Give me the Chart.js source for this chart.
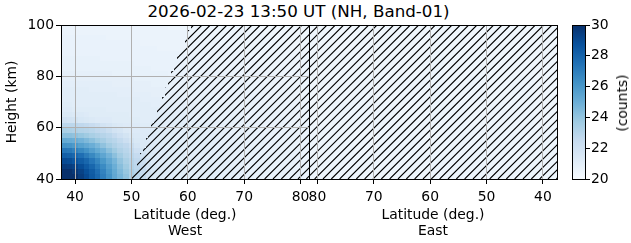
<!DOCTYPE html>
<html lang="en">
<head>
<meta charset="UTF-8">
<title>Band-01 counts</title>
<script src="https://cdn.jsdelivr.net/npm/chart.js"></script>
<style>
  body { margin: 0; background: #fff; font-family: 'DejaVu Sans', sans-serif; color: #000; }
  .fig { position: relative; width: 631px; height: 243px; overflow: hidden; }
  .fig canvas { position: absolute; top: 0; }
  #title { position: absolute; left: 0; top: 1px; width: 597px; text-align: center; font-size: 16.7px; line-height: 20px; white-space: nowrap; }
  #cbLabel { position: absolute; left: 621.5px; top: 103px; font-size: 13.9px; line-height: 16px; white-space: nowrap; transform: translate(-50%, -50%) rotate(-90deg); }
</style>
</head>
<body>
<div class="fig">
  <div id="title">2026-02-23 13:50 UT (NH, Band-01)</div>
  <canvas id="west" width="310" height="243" style="left:0"></canvas>
  <canvas id="east" width="268" height="243" style="left:290px"></canvas>
  <canvas id="cbar" width="71" height="243" style="left:560px"></canvas>
  <div id="cbLabel">(counts)</div>
</div>

<script>
// tick labels
const latTicks = [40, 50, 60, 70, 80];
const heightTicks = [40, 60, 80, 100];
const countTicks = [20, 22, 24, 26, 28, 30];

// West panel: cell centres (deg, km) and counts, one row per height
const westLats = [38, 39, 40, 41, 42, 43, 44, 45, 46, 47, 48, 49, 50, 51, 52, 53, 54, 55, 56, 57, 58, 59,
                  60, 61, 62, 63, 64, 65, 66, 67, 68, 69, 70, 71, 72, 73, 74, 75, 76, 77, 78, 79, 80, 81];
const westHeights = [41, 43, 45, 47, 49, 51, 53, 55, 57, 59, 61, 63, 65, 67, 69,
                     71, 73, 75, 77, 79, 81, 83, 85, 87, 89, 91, 93, 95, 97, 99];
const westCounts = [
  [30.5,30.3,30.0,29.5,29.0,28.4,27.8,27.0,26.2,25.3,24.7, 24.1,23.3,22.9,22.6,21.9,21.5,21.4,21.3,21.3,21.2,21.2, 21.2,21.1,21.1,21.1,21.1,21.1,21.0,21.0,20.9,20.9,20.9, 20.8,20.8,20.8,20.8,20.7,20.7,20.7,20.7,20.7,20.7,20.6],
  [30.2,30.0,29.7,29.3,28.8,28.3,27.6,26.8,26.0,25.2,24.5, 23.9,23.3,22.9,22.5,22.0,21.6,21.4,21.3,21.3,21.2,21.2, 21.1,21.1,21.1,21.1,21.1,21.0,21.0,21.0,20.9,20.9,20.9, 20.8,20.8,20.8,20.8,20.7,20.7,20.7,20.7,20.7,20.7,20.6],
  [29.6,29.5,29.3,28.9,28.4,27.9,27.2,26.5,25.7,25.0,24.3, 23.7,23.1,22.8,22.4,21.9,21.5,21.3,21.3,21.3,21.2,21.2, 21.1,21.1,21.1,21.1,21.1,21.0,21.0,21.0,20.9,20.9,20.9, 20.8,20.8,20.8,20.8,20.7,20.7,20.7,20.7,20.7,20.7,20.6],
  [29.0,28.9,28.6,28.3,27.9,27.3,26.7,26.0,25.3,24.7,24.0, 23.4,23.0,22.7,22.2,21.7,21.4,21.3,21.3,21.2,21.2,21.2, 21.1,21.1,21.1,21.1,21.1,21.0,21.0,21.0,20.9,20.9,20.9, 20.8,20.8,20.8,20.8,20.7,20.7,20.7,20.7,20.7,20.7,20.6],
  [28.2,28.1,27.9,27.6,27.1,26.6,26.0,25.4,24.8,24.2,23.6, 23.1,22.8,22.5,21.9,21.5,21.4,21.3,21.3,21.2,21.2,21.2, 21.1,21.1,21.1,21.1,21.1,21.0,21.0,20.9,20.9,20.9,20.8, 20.8,20.8,20.8,20.8,20.7,20.7,20.7,20.7,20.7,20.7,20.6],
  [27.3,27.2,26.9,26.6,26.2,25.7,25.2,24.8,24.2,23.7,23.2, 22.9,22.6,22.1,21.7,21.4,21.3,21.3,21.3,21.2,21.2,21.1, 21.1,21.1,21.1,21.1,21.1,21.0,21.0,20.9,20.9,20.9,20.8, 20.8,20.8,20.8,20.7,20.7,20.7,20.7,20.7,20.7,20.7,20.6],
  [26.2,26.1,25.9,25.6,25.3,25.0,24.6,24.1,23.6,23.2,22.9, 22.7,22.3,21.7,21.4,21.4,21.3,21.3,21.2,21.2,21.2,21.1, 21.1,21.1,21.1,21.1,21.0,21.0,21.0,20.9,20.9,20.9,20.8, 20.8,20.8,20.8,20.7,20.7,20.7,20.7,20.7,20.7,20.6,20.6],
  [25.2,25.1,25.0,24.8,24.5,24.2,23.8,23.5,23.1,22.9,22.6, 22.2,21.8,21.5,21.4,21.3,21.3,21.2,21.2,21.2,21.1,21.1, 21.1,21.1,21.1,21.1,21.0,21.0,20.9,20.9,20.9,20.8,20.8, 20.8,20.8,20.8,20.7,20.7,20.7,20.7,20.7,20.7,20.6,20.6],
  [24.2,24.2,24.1,23.9,23.7,23.4,23.2,23.0,22.8,22.5,22.1, 21.8,21.5,21.4,21.3,21.3,21.3,21.2,21.2,21.2,21.1,21.1, 21.1,21.1,21.1,21.0,21.0,21.0,20.9,20.9,20.9,20.8,20.8, 20.8,20.8,20.7,20.7,20.7,20.7,20.7,20.7,20.7,20.6,20.6],
  [23.4,23.3,23.2,23.1,23.0,22.9,22.7,22.6,22.3,21.9,21.7, 21.4,21.3,21.3,21.3,21.3,21.2,21.2,21.2,21.1,21.1,21.1, 21.1,21.1,21.1,21.0,21.0,20.9,20.9,20.9,20.8,20.8,20.8, 20.8,20.8,20.7,20.7,20.7,20.7,20.7,20.7,20.7,20.6,20.6],
  [22.8,22.8,22.8,22.7,22.6,22.4,22.2,21.9,21.7,21.5,21.4, 21.3,21.3,21.3,21.2,21.2,21.2,21.2,21.1,21.1,21.1,21.1, 21.1,21.1,21.0,21.0,21.0,20.9,20.9,20.9,20.8,20.8,20.8, 20.8,20.7,20.7,20.7,20.7,20.7,20.7,20.7,20.6,20.6,20.6],
  [22.0,21.9,21.8,21.6,21.5,21.4,21.3,21.3,21.3,21.2,21.2, 21.2,21.2,21.2,21.1,21.1,21.1,21.1,21.1,21.1,21.1,21.0, 21.0,21.0,20.9,20.9,20.9,20.9,20.8,20.8,20.8,20.8,20.8, 20.7,20.7,20.7,20.7,20.7,20.7,20.7,20.6,20.6,20.6,20.6],
  [21.5,21.5,21.4,21.4,21.3,21.2,21.2,21.2,21.2,21.2,21.2, 21.2,21.1,21.1,21.1,21.1,21.1,21.1,21.1,21.1,21.0,21.0, 21.0,20.9,20.9,20.9,20.9,20.8,20.8,20.8,20.8,20.8,20.7, 20.7,20.7,20.7,20.7,20.7,20.7,20.6,20.6,20.6,20.6,20.6],
  [21.3,21.3,21.2,21.2,21.2,21.2,21.2,21.2,21.1,21.1,21.1, 21.1,21.1,21.1,21.1,21.1,21.1,21.1,21.0,21.0,21.0,21.0, 20.9,20.9,20.9,20.8,20.8,20.8,20.8,20.8,20.8,20.7,20.7, 20.7,20.7,20.7,20.7,20.7,20.6,20.6,20.6,20.6,20.6,20.6],
  [21.2,21.2,21.1,21.1,21.1,21.1,21.1,21.1,21.1,21.1,21.1, 21.1,21.1,21.1,21.1,21.1,21.0,21.0,21.0,21.0,20.9,20.9, 20.9,20.9,20.8,20.8,20.8,20.8,20.8,20.8,20.7,20.7,20.7, 20.7,20.7,20.7,20.7,20.6,20.6,20.6,20.6,20.6,20.6,20.6],
  [21.1,21.1,21.1,21.1,21.1,21.1,21.1,21.1,21.1,21.1,21.1, 21.1,21.1,21.1,21.0,21.0,21.0,21.0,20.9,20.9,20.9,20.9, 20.9,20.8,20.8,20.8,20.8,20.8,20.7,20.7,20.7,20.7,20.7, 20.7,20.7,20.7,20.6,20.6,20.6,20.6,20.6,20.6,20.6,20.5],
  [21.1,21.1,21.1,21.1,21.1,21.1,21.1,21.1,21.1,21.1,21.0, 21.0,21.0,21.0,21.0,21.0,20.9,20.9,20.9,20.9,20.9,20.8, 20.8,20.8,20.8,20.8,20.8,20.7,20.7,20.7,20.7,20.7,20.7, 20.7,20.7,20.6,20.6,20.6,20.6,20.6,20.6,20.6,20.5,20.5],
  [21.1,21.1,21.1,21.1,21.1,21.0,21.0,21.0,21.0,21.0,21.0, 21.0,21.0,20.9,20.9,20.9,20.9,20.9,20.9,20.8,20.8,20.8, 20.8,20.8,20.8,20.7,20.7,20.7,20.7,20.7,20.7,20.7,20.7, 20.7,20.6,20.6,20.6,20.6,20.6,20.6,20.6,20.6,20.5,20.5],
  [21.0,21.0,21.0,21.0,21.0,21.0,21.0,21.0,21.0,20.9,20.9, 20.9,20.9,20.9,20.9,20.9,20.8,20.8,20.8,20.8,20.8,20.8, 20.8,20.8,20.7,20.7,20.7,20.7,20.7,20.7,20.7,20.7,20.7, 20.6,20.6,20.6,20.6,20.6,20.6,20.6,20.5,20.5,20.5,20.5],
  [20.9,20.9,20.9,20.9,20.9,20.9,20.9,20.9,20.9,20.9,20.9, 20.9,20.9,20.8,20.8,20.8,20.8,20.8,20.8,20.8,20.8,20.8, 20.7,20.7,20.7,20.7,20.7,20.7,20.7,20.7,20.7,20.6,20.6, 20.6,20.6,20.6,20.6,20.6,20.6,20.5,20.5,20.5,20.5,20.5],
  [20.9,20.9,20.9,20.9,20.9,20.9,20.9,20.9,20.9,20.8,20.8, 20.8,20.8,20.8,20.8,20.8,20.8,20.8,20.8,20.7,20.7,20.7, 20.7,20.7,20.7,20.7,20.7,20.7,20.7,20.7,20.6,20.6,20.6, 20.6,20.6,20.6,20.6,20.6,20.5,20.5,20.5,20.5,20.5,20.5],
  [20.8,20.8,20.8,20.8,20.8,20.8,20.8,20.8,20.8,20.8,20.8, 20.8,20.8,20.8,20.8,20.8,20.7,20.7,20.7,20.7,20.7,20.7, 20.7,20.7,20.7,20.7,20.7,20.7,20.6,20.6,20.6,20.6,20.6, 20.6,20.6,20.6,20.6,20.5,20.5,20.5,20.5,20.5,20.5,20.5],
  [20.8,20.8,20.8,20.8,20.8,20.8,20.8,20.8,20.8,20.8,20.8, 20.8,20.8,20.7,20.7,20.7,20.7,20.7,20.7,20.7,20.7,20.7, 20.7,20.7,20.7,20.7,20.6,20.6,20.6,20.6,20.6,20.6,20.6, 20.6,20.6,20.5,20.5,20.5,20.5,20.5,20.5,20.5,20.5,20.5],
  [20.8,20.8,20.8,20.8,20.8,20.8,20.8,20.7,20.7,20.7,20.7, 20.7,20.7,20.7,20.7,20.7,20.7,20.7,20.7,20.7,20.7,20.7, 20.7,20.7,20.6,20.6,20.6,20.6,20.6,20.6,20.6,20.6,20.6, 20.6,20.5,20.5,20.5,20.5,20.5,20.5,20.5,20.5,20.5,20.5],
  [20.7,20.7,20.7,20.7,20.7,20.7,20.7,20.7,20.7,20.7,20.7, 20.7,20.7,20.7,20.7,20.7,20.7,20.7,20.7,20.7,20.7,20.6, 20.6,20.6,20.6,20.6,20.6,20.6,20.6,20.6,20.6,20.6,20.5, 20.5,20.5,20.5,20.5,20.5,20.5,20.5,20.5,20.5,20.5,20.4],
  [20.7,20.7,20.7,20.7,20.7,20.7,20.7,20.7,20.7,20.7,20.7, 20.7,20.7,20.7,20.7,20.7,20.7,20.6,20.6,20.6,20.6,20.6, 20.6,20.6,20.6,20.6,20.6,20.6,20.6,20.6,20.5,20.5,20.5, 20.5,20.5,20.5,20.5,20.5,20.5,20.5,20.5,20.4,20.4,20.4],
  [20.7,20.7,20.7,20.7,20.7,20.7,20.7,20.7,20.7,20.7,20.7, 20.7,20.7,20.7,20.6,20.6,20.6,20.6,20.6,20.6,20.6,20.6, 20.6,20.6,20.6,20.6,20.6,20.6,20.5,20.5,20.5,20.5,20.5, 20.5,20.5,20.5,20.5,20.5,20.5,20.5,20.4,20.4,20.4,20.4],
  [20.7,20.7,20.7,20.7,20.7,20.7,20.7,20.7,20.6,20.6,20.6, 20.6,20.6,20.6,20.6,20.6,20.6,20.6,20.6,20.6,20.6,20.6, 20.6,20.6,20.6,20.5,20.5,20.5,20.5,20.5,20.5,20.5,20.5, 20.5,20.5,20.5,20.5,20.5,20.4,20.4,20.4,20.4,20.4,20.4],
  [20.6,20.6,20.6,20.6,20.6,20.6,20.6,20.6,20.6,20.6,20.6, 20.6,20.6,20.6,20.6,20.6,20.6,20.6,20.6,20.6,20.6,20.6, 20.6,20.5,20.5,20.5,20.5,20.5,20.5,20.5,20.5,20.5,20.5, 20.5,20.5,20.5,20.4,20.4,20.4,20.4,20.4,20.4,20.4,20.4],
  [20.6,20.6,20.6,20.6,20.6,20.6,20.6,20.6,20.6,20.6,20.6, 20.6,20.6,20.6,20.6,20.6,20.6,20.6,20.6,20.5,20.5,20.5, 20.5,20.5,20.5,20.5,20.5,20.5,20.5,20.5,20.5,20.5,20.5, 20.5,20.4,20.4,20.4,20.4,20.4,20.4,20.4,20.4,20.4,20.4]
];
// latitude where the hatched (masked) part starts, one value per west height row
const westHatchFrom = [50.0, 50.5, 51.0, 51.0, 51.5, 52.0, 52.5, 52.5, 53.0, 53.5, 53.5, 54.0, 54.5, 54.5, 55.0,
                       55.5, 56.0, 56.0, 56.5, 57.0, 57.0, 57.5, 58.0, 58.0, 58.5, 59.0, 59.5, 59.5, 60.0, 60.5];

// East panel (all hatched)
const eastLats = [79.5, 75.5, 71.5, 67.5, 63.5, 59.5, 55.5, 51.5, 47.5, 43.5, 39.5];
const eastHeights = [45, 55, 65, 75, 85, 95];
const eastCounts = [
  [20.5, 20.5, 20.5, 20.4, 20.5, 20.5, 20.5, 20.5, 20.5, 20.5, 20.5],
  [20.5, 20.5, 20.4, 20.5, 20.5, 20.4, 20.5, 20.5, 20.5, 20.5, 20.5],
  [20.4, 20.5, 20.5, 20.5, 20.4, 20.5, 20.5, 20.4, 20.5, 20.5, 20.4],
  [20.4, 20.4, 20.5, 20.4, 20.5, 20.5, 20.4, 20.5, 20.4, 20.5, 20.4],
  [20.4, 20.4, 20.4, 20.4, 20.4, 20.5, 20.4, 20.4, 20.4, 20.4, 20.4],
  [20.4, 20.3, 20.4, 20.4, 20.4, 20.4, 20.4, 20.3, 20.4, 20.4, 20.4]
];
const eastHatchFrom = [37.5, 37.5, 37.5, 37.5, 37.5, 37.5];

const LAT_MIN = 37.5, LAT_MAX = 81.5;
const H_MIN = 40, H_MAX = 100;
const C_MIN = 20, C_MAX = 30;

// matplotlib "Blues"
const blues = [[247,251,255],[222,235,247],[198,219,239],[158,202,225],[107,174,214],
               [66,146,198],[33,113,181],[8,81,156],[8,48,107]];

function bluesColor(v) {
  let t = (v - C_MIN) / (C_MAX - C_MIN);
  t = Math.max(0, Math.min(1, t));
  const p = t * (blues.length - 1);
  const i = Math.min(blues.length - 2, Math.floor(p));
  const f = p - i;
  const a = blues[i], b = blues[i + 1];
  return 'rgb(' + [0, 1, 2].map(k => Math.round(a[k] + (b[k] - a[k]) * f)).join(',') + ')';
}

// cell edges from cell centres
function edges(c) {
  const e = [c[0] - (c[1] - c[0]) / 2];
  for (let i = 1; i < c.length; i++) e.push((c[i - 1] + c[i]) / 2);
  e.push(c[c.length - 1] + (c[c.length - 1] - c[c.length - 2]) / 2);
  return e;
}

const HATCH_STEP = 100 / 12;
const HATCH_PHASE = 2;

function panelPlugin(lats, heights, counts, hatchFrom, pageLeft) {
  const latE = edges(lats), hE = edges(heights);
  return {
    id: 'panel',
    beforeDraw(chart) {
      const { ctx, chartArea: a, scales: { x, y } } = chart;
      ctx.save();
      ctx.beginPath();
      ctx.rect(a.left, a.top, a.right - a.left, a.bottom - a.top);
      ctx.clip();
      // counts
      for (let r = 0; r < heights.length; r++) {
        const y0 = Math.round(y.getPixelForValue(hE[r]));
        const y1 = Math.round(y.getPixelForValue(hE[r + 1]));
        for (let c = 0; c < lats.length; c++) {
          const x0 = Math.round(x.getPixelForValue(latE[c]));
          const x1 = Math.round(x.getPixelForValue(latE[c + 1]));
          ctx.fillStyle = bluesColor(counts[r][c]);
          ctx.fillRect(Math.min(x0, x1), Math.min(y0, y1), Math.abs(x1 - x0), Math.abs(y1 - y0));
        }
      }
      // hatched mask
      ctx.beginPath();
      for (let r = 0; r < heights.length; r++) {
        const y0 = Math.round(y.getPixelForValue(hE[r]));
        const y1 = Math.round(y.getPixelForValue(hE[r + 1]));
        const xa = Math.round(x.getPixelForValue(hatchFrom[r]));
        const xb = Math.round(x.getPixelForValue(LAT_MAX));
        ctx.rect(Math.min(xa, xb), Math.min(y0, y1), Math.abs(xb - xa), Math.abs(y1 - y0));
      }
      ctx.clip();
      ctx.beginPath();
      const sMin = a.left + pageLeft + a.top, sMax = a.right + pageLeft + a.bottom;
      for (let k = Math.floor((sMin - HATCH_PHASE) / HATCH_STEP); k * HATCH_STEP + HATCH_PHASE <= sMax; k++) {
        const s = k * HATCH_STEP + HATCH_PHASE - pageLeft;
        ctx.moveTo(s - a.bottom, a.bottom);
        ctx.lineTo(s - a.top, a.top);
      }
      ctx.strokeStyle = '#000';
      ctx.lineWidth = 1.1;
      ctx.stroke();
      ctx.restore();
    },
    afterDraw(chart) {
      const { ctx, chartArea: a } = chart;
      ctx.save();
      ctx.strokeStyle = '#000';
      ctx.lineWidth = 1;
      ctx.strokeRect(a.left + 0.5, a.top + 0.5, a.right - a.left, a.bottom - a.top);
      ctx.restore();
    }
  };
}

Chart.defaults.font.family = "'DejaVu Sans', sans-serif";
Chart.defaults.font.size = 13.9;
Chart.defaults.color = '#000';

const gridStyle = { color: '#b0b0b0', lineWidth: 1, tickColor: '#000', tickLength: 5, tickWidth: 1 };

// no label overflow padding: the plot areas are placed by hand
function noPad(s) {
  s.paddingLeft = 0; s.paddingRight = 0; s.paddingTop = 0; s.paddingBottom = 0;
}

function latAxis(reverse, side) {
  return {
    type: 'linear', min: LAT_MIN, max: LAT_MAX, reverse: reverse,
    afterBuildTicks: s => { s.ticks = latTicks.map(v => ({ value: v })); },
    afterFit: s => { s.height = 64; noPad(s); },
    grid: gridStyle,
    border: { display: false },
    ticks: { padding: 5, maxRotation: 0, autoSkip: false },
    title: { display: true, text: ['Latitude (deg.)', side], font: { lineHeight: '16px' }, padding: { top: 0, bottom: 4 } }
  };
}

const heightAxis = {
  type: 'linear', min: H_MIN, max: H_MAX,
  afterBuildTicks: s => { s.ticks = heightTicks.map(v => ({ value: v })); },
  afterFit: s => { s.width = 61; noPad(s); },
  grid: gridStyle,
  border: { display: false },
  ticks: { padding: 2 },
  title: { display: true, text: 'Height (km)', font: { lineHeight: 1.2 }, padding: { top: 4, bottom: 0 } }
};

function panelChart(id, lats, heights, counts, hatchFrom, pageLeft, reverse, side, showY) {
  return new Chart(document.getElementById(id), {
    type: 'scatter',
    data: { datasets: [] },
    options: {
      responsive: false,
      animation: false,
      layout: { autoPadding: false, padding: { top: 25, right: 1, bottom: 0, left: showY ? 0 : 19 } },
      plugins: { legend: { display: false }, tooltip: { enabled: false } },
      scales: {
        x: latAxis(reverse, side),
        y: showY ? heightAxis : { type: 'linear', min: H_MIN, max: H_MAX, display: false }
      }
    },
    plugins: [panelPlugin(lats, heights, counts, hatchFrom, pageLeft)]
  });
}

panelChart('west', westLats, westHeights, westCounts, westHatchFrom, 0, false, 'West', true);
panelChart('east', eastLats, eastHeights, eastCounts, eastHatchFrom, 290, true, 'East', false);

// colour bar
new Chart(document.getElementById('cbar'), {
  type: 'scatter',
  data: { datasets: [] },
  options: {
    responsive: false,
    animation: false,
    layout: { autoPadding: false, padding: { top: 25, right: 0, bottom: 64, left: 12 } },
    plugins: { legend: { display: false }, tooltip: { enabled: false } },
    scales: {
      x: { display: false },
      y: {
        type: 'linear', position: 'right', min: C_MIN, max: C_MAX,
        afterBuildTicks: s => { s.ticks = countTicks.map(v => ({ value: v })); },
        afterFit: s => { s.width = 45; noPad(s); },
        grid: { drawOnChartArea: false, tickColor: '#000', tickLength: 4, tickWidth: 1 },
        border: { display: false },
        ticks: { padding: 1 }
      }
    }
  },
  plugins: [{
    id: 'cbar',
    beforeDraw(chart) {
      const { ctx, chartArea: a, scales: { y } } = chart;
      const g = ctx.createLinearGradient(0, y.getPixelForValue(C_MIN), 0, y.getPixelForValue(C_MAX));
      blues.forEach((c, i) => g.addColorStop(i / (blues.length - 1), 'rgb(' + c.join(',') + ')'));
      ctx.save();
      ctx.fillStyle = g;
      ctx.fillRect(a.left, a.top, a.right - a.left, a.bottom - a.top);
      ctx.restore();
    },
    afterDraw(chart) {
      const { ctx, chartArea: a } = chart;
      ctx.save();
      ctx.strokeStyle = '#000';
      ctx.lineWidth = 1;
      ctx.strokeRect(a.left + 0.5, a.top + 0.5, a.right - a.left - 1, a.bottom - a.top);
      ctx.restore();
    }
  }]
});
</script>
</body>
</html>
